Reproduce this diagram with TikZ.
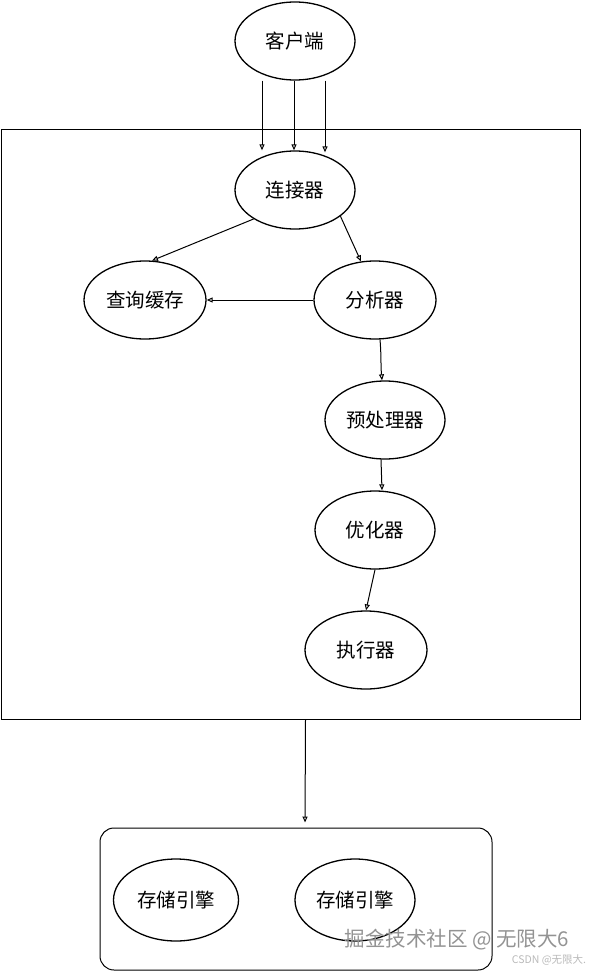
\documentclass[tikz,border=0pt]{standalone}
\usepackage{fontspec}
\newfontfamily\cjk{Noto Sans CJK SC}
\usepackage{tikz}
\usetikzlibrary{shapes.geometric,arrows.meta,positioning,calc}

\begin{document}
\begin{tikzpicture}[
        x=1pt, y=-1pt,
        every node/.style={font=\cjk\fontsize{19.5}{22}\selectfont},
        stage/.style={ellipse, draw, line width=1.3pt, minimum width=120pt, minimum height=78pt, inner sep=0pt},
        frame/.style={rectangle, draw, line width=1pt},
        arrow/.style={-{Triangle[open, length=6pt, width=5pt]}, line width=1pt}
    ]
        \useasboundingbox (0,0) rectangle (591,971);

        % Client
        \node[stage] (client) at (295,41) {客户端};

        % Server frame
        \node[frame, minimum width=579pt, minimum height=589pt] (core) at (290.5,424.5) {};

        % Stages
        \node[stage] (conn) at (295,190) {连接器};
        \node[stage, minimum width=122pt] (cache) at (145,300) {查询缓存};
        \node[stage, minimum width=122pt] (parser) at (375,300) {分析器};
        \node[stage] (prep) at (385,420) {预处理器};
        \node[stage] (optim) at (375,530) {优化器};
        \node[stage, minimum width=122pt] (exec) at (366,650) {执行器};

        % Storage engines
        \node[frame, rounded corners=14pt, minimum width=392pt, minimum height=142pt] (engine) at (296,899) {};
        \node[stage, minimum width=125pt, minimum height=82pt] (engA) at (176,900) {存储引擎};
        \node[stage, minimum height=82pt] (engB) at (355,900) {存储引擎};

        % Connections
        \draw[arrow] ([xshift=-33pt]client.south) -- ([xshift=-33pt]conn.north);
        \draw[arrow] ([xshift=-1pt]client.south) -- ([xshift=-1pt]conn.north);
        \draw[arrow] ([xshift=30pt]client.south) -- ([xshift=30pt,yshift=-2pt]conn.north);
        \draw[arrow] (conn.215) -- (cache.80);
        \draw[arrow] (conn.330) -- (parser.110);
        \draw[arrow] (parser.west) -- (cache.east);
        \draw[arrow] ([xshift=5pt]parser.south) to[out=-85,in=95] ([xshift=-3pt]prep.north);
        \draw[arrow] ([xshift=-4pt]prep.south) -- ([xshift=7pt]optim.north);
        \draw[arrow] (optim.south) -- (exec.north);
        \draw[arrow, shorten >=5pt] ([xshift=15pt]core.south) -- ([xshift=9pt]engine.north);

        % Watermarks
        \node[text=gray!85, font=\cjk\fontsize{20.5}{23}\selectfont] (mark) at (457,940) {掘金技术社区 @ 无限大6};
        \node[text=gray!55, font=\cjk\fontsize{10.5}{12}\selectfont] (csdn) at (549,960) {CSDN @无限大.};
    \end{tikzpicture}
\end{document}
